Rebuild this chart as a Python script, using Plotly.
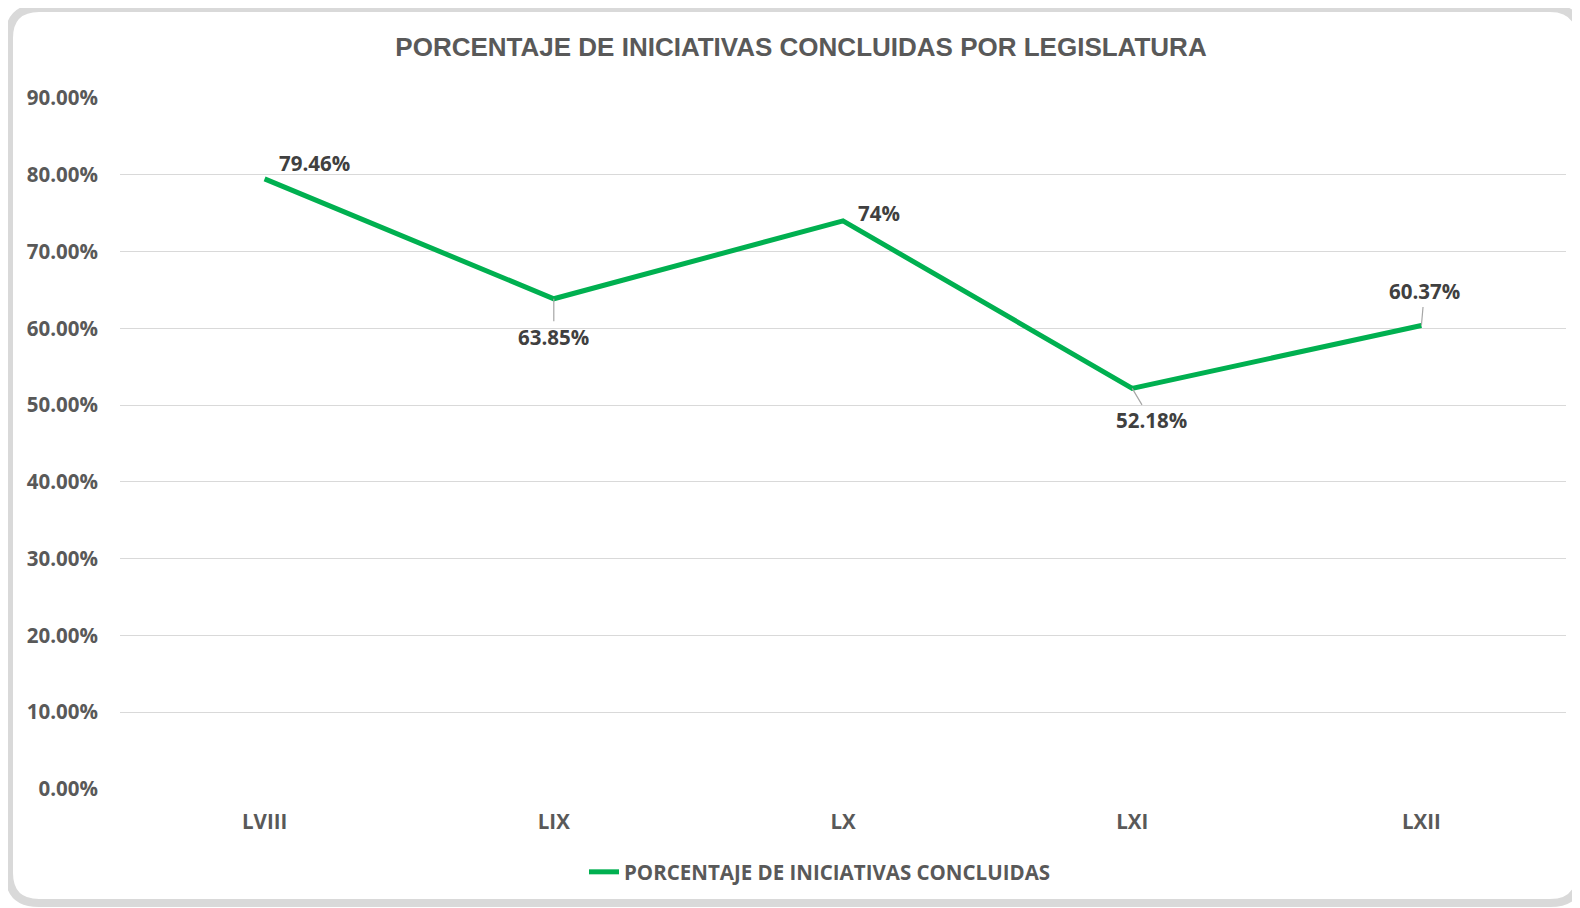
import plotly.graph_objects as go

# Datos
legislaturas = ["LVIII", "LIX", "LX", "LXI", "LXII"]
porcentajes = [79.46, 63.85, 74.0, 52.18, 60.37]
y_ticks = [0, 10, 20, 30, 40, 50, 60, 70, 80, 90]

# desplazamiento (px) de cada etiqueta respecto al punto, y si lleva línea guía
label_dx = [50, 0, 36, 19, 3]
label_dy = [-16, 38, -8, 32, -34]
label_leader = [False, True, False, True, True]

# la página tiene 8px de margen en el body, así que todo va corrido 8px
W, H = 1580, 908
ML, MR, MT, MB = 112, 22, 90, 127
PW, PH = W - ML - MR, H - MT - MB

GRAY = "#595959"
FONT = "Open Sans, Noto Sans, sans-serif"
FS = 20.5


def px(x):
    return (x - ML) / PW


def py(y):
    return (H - MB - y) / PH


fig = go.Figure()

fig.add_trace(go.Scatter(
    x=legislaturas,
    y=[v / 100 for v in porcentajes],
    mode="lines",
    name="PORCENTAJE DE INICIATIVAS CONCLUIDAS",
    line=dict(color="#00B050", width=5),
    hoverinfo="skip",
))

# etiquetas de datos
for cat, v, dx, dy, lead in zip(legislaturas, porcentajes, label_dx, label_dy, label_leader):
    txt = f"{v:g}%"
    if lead:
        fig.add_annotation(
            x=cat, y=v / 100, text=f"<b>{txt}</b>",
            showarrow=True, arrowhead=0, arrowwidth=1.2, arrowcolor="#a6a6a6",
            ax=dx, ay=dy, standoff=0,
            font=dict(family=FONT, size=FS, color="#404040"),
        )
    else:
        fig.add_annotation(
            x=cat, y=v / 100, text=f"<b>{txt}</b>",
            showarrow=False, xshift=dx, yshift=-dy,
            font=dict(family=FONT, size=FS, color="#404040"),
        )

# marco redondeado (coordenadas en px de la figura)
x0, x1, y0, y1, r = 1, 1572, 0, 895, 30
path = (
    f"M {px(x0 + r)},{py(y0)} L {px(x1 - r)},{py(y0)} "
    f"Q {px(x1)},{py(y0)} {px(x1)},{py(y0 + r)} "
    f"L {px(x1)},{py(y1 - r)} Q {px(x1)},{py(y1)} {px(x1 - r)},{py(y1)} "
    f"L {px(x0 + r)},{py(y1)} Q {px(x0)},{py(y1)} {px(x0)},{py(y1 - r)} "
    f"L {px(x0)},{py(y0 + r)} Q {px(x0)},{py(y0)} {px(x0 + r)},{py(y0)} Z"
)
fig.add_shape(type="path", path=path, xref="paper", yref="paper",
              line=dict(color="#d9d9d9", width=8))

fig.update_layout(
    width=W, height=H,
    margin=dict(l=ML, r=MR, t=MT, b=MB),
    paper_bgcolor="white",
    plot_bgcolor="white",
    font=dict(family=FONT, color=GRAY),
    title=dict(
        text="<b>PORCENTAJE DE INICIATIVAS CONCLUIDAS POR LEGISLATURA</b>",
        x=793 / W, xref="container", xanchor="center",
        y=1 - 39 / H, yref="container", yanchor="middle",
        font=dict(family="Liberation Sans, Arial, sans-serif", size=26, color=GRAY),
    ),
    xaxis=dict(
        range=[-0.5, 4.5],
        showgrid=False, zeroline=False, showline=False,
        ticks="outside", ticklen=0, ticklabelstandoff=14,
        tickfont=dict(family=FONT, size=FS, color=GRAY, weight="bold"),
    ),
    yaxis=dict(
        range=[0, 0.9],
        tickvals=[t / 100 for t in y_ticks],
        tickformat=".2%",
        showgrid=True, gridcolor="#d9d9d9", gridwidth=1,
        zeroline=False, showline=False,
        ticks="outside", ticklen=0, ticklabelstandoff=17,
        tickfont=dict(family=FONT, size=FS, color=GRAY, weight="bold"),
    ),
    showlegend=True,
    legend=dict(
        orientation="h",
        x=0.5 - 23 / PW, xanchor="center",
        y=py(864), yanchor="middle",
        font=dict(family=FONT, size=FS, color=GRAY, weight="bold"),
        bgcolor="rgba(0,0,0,0)",
    ),
)

fig.write_html("out.html")
